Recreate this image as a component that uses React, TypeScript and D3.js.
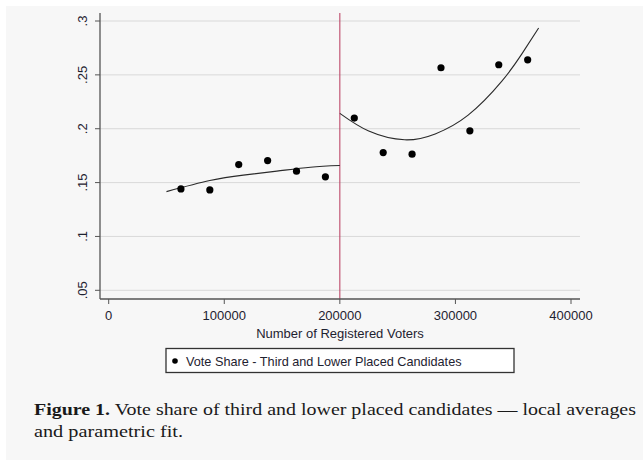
import React from "react";
import * as d3 from "d3";

const binCenters = [62500, 87500, 112500, 137500, 162500, 187500, 212500, 237500, 262500, 287500, 312500, 337500, 362500];
const voteShare = [0.1441, 0.1432, 0.1667, 0.1704, 0.1606, 0.1553, 0.2099, 0.1779, 0.1764, 0.2566, 0.198, 0.2594, 0.264];

const leftFitX = [50000, 87500, 116500, 145500, 174500, 200000];
const leftFitY = [0.1416, 0.1519, 0.1569, 0.1606, 0.1643, 0.1658];
const rightFitX = [200000, 225000, 256000, 282500, 311000, 340000, 357500, 372000];
const rightFitY = [0.2142, 0.1978, 0.1897, 0.1952, 0.2126, 0.2439, 0.2695, 0.2935];

const xTicks = [0, 100000, 200000, 300000, 400000];
const xTickLabels = ["0", "100000", "200000", "300000", "400000"];
const yTicks = [0.05, 0.1, 0.15, 0.2, 0.25, 0.3];
const yTickLabels = [".05", ".1", ".15", ".2", ".25", ".3"];
const cutoff = 200000;

const xTitle = "Number of Registered Voters";
const legendLabel = "Vote Share - Third and Lower Placed Candidates";
const captionBold = "Figure 1.";
const captionLine1 = " Vote share of third and lower placed candidates \u2014 local averages";
const captionLine2 = "and parametric fit.";

export default function App() {
  const W = 643, H = 460;
  const plotLeft = 100, plotRight = 580, plotTop = 13, plotBottom = 299;
  const x = d3.scaleLinear().domain([0, 400000]).range([108.7, 571]);
  const y = d3.scaleLinear().domain([0.05, 0.3]).range([290.3, 21]);
  const sans = "'Liberation Sans', Arial, Helvetica, sans-serif";
  const serif = "'Liberation Serif', 'DejaVu Serif', serif";
  const textColor = "#1e2230";

  const line = d3
    .line<[number, number]>()
    .x((d) => x(d[0]))
    .y((d) => y(d[1]))
    .curve(d3.curveNatural);

  const leftPts = leftFitX.map((v, i) => [v, leftFitY[i]] as [number, number]);
  const rightPts = rightFitX.map((v, i) => [v, rightFitY[i]] as [number, number]);

  return (
    <svg
      width={W}
      height={H}
      style={{ position: "absolute", left: 0, top: 0, display: "block" }}
    >
      <rect x={0} y={0} width={W} height={H} fill="#ffffff" />
      <rect x={6} y={6} width={W - 6} height={H - 6} fill="#f7f7f7" />

      {/* gridlines */}
      {yTicks.map((t) => (
        <line key={"g" + t} x1={plotLeft} x2={plotRight} y1={y(t)} y2={y(t)} stroke="#d9d9d9" strokeWidth={1} />
      ))}

      {/* cutoff line */}
      <line x1={x(cutoff)} x2={x(cutoff)} y1={plotTop} y2={plotBottom} stroke="#b8385c" strokeWidth={1} />

      {/* fit lines */}
      <path d={line(leftPts) || ""} fill="none" stroke="#2a2a2a" strokeWidth={1.1} />
      <path d={line(rightPts) || ""} fill="none" stroke="#2a2a2a" strokeWidth={1.1} />

      {/* points */}
      {binCenters.map((v, i) => (
        <circle key={"p" + i} cx={x(v)} cy={y(voteShare[i])} r={3.6} fill="#000" />
      ))}

      {/* axes */}
      <line x1={plotLeft} x2={plotLeft} y1={plotTop} y2={plotBottom} stroke="#555" strokeWidth={1.3} />
      <line x1={plotLeft} x2={plotRight} y1={plotBottom} y2={plotBottom} stroke="#555" strokeWidth={1.3} />

      {yTicks.map((t, i) => (
        <g key={"yt" + t}>
          <line x1={plotLeft - 5} x2={plotLeft} y1={y(t)} y2={y(t)} stroke="#555" strokeWidth={1} />
          <text
            transform={`translate(87,${y(t)}) rotate(-90)`}
            textAnchor="middle"
            fontFamily={sans}
            fontSize={13}
            fill={textColor}
          >
            {yTickLabels[i]}
          </text>
        </g>
      ))}

      {xTicks.map((t, i) => (
        <g key={"xt" + t}>
          <line x1={x(t)} x2={x(t)} y1={plotBottom} y2={plotBottom + 5} stroke="#555" strokeWidth={1} />
          <text x={x(t)} y={320} textAnchor="middle" fontFamily={sans} fontSize={13} fill={textColor}>
            {xTickLabels[i]}
          </text>
        </g>
      ))}

      <text x={340} y={338} textAnchor="middle" fontFamily={sans} fontSize={13} fill={textColor}>
        {xTitle}
      </text>

      {/* legend */}
      <rect x={166} y={348.5} width={348} height={24} fill="#ffffff" stroke="#333" strokeWidth={1.3} />
      <circle cx={175} cy={361} r={2.8} fill="#000" />
      <text x={186} y={365.5} fontFamily={sans} fontSize={12.7} fill={textColor}>
        {legendLabel}
      </text>

      {/* caption */}
      <text x={34} y={415} fontFamily={serif} fontSize={17} fill="#1a1a1a" textLength={602} lengthAdjust="spacingAndGlyphs">
        <tspan fontWeight="bold">{captionBold}</tspan>
        <tspan>{captionLine1}</tspan>
      </text>
      <text x={34} y={436.5} fontFamily={serif} fontSize={17} fill="#1a1a1a" textLength={149} lengthAdjust="spacingAndGlyphs">
        {captionLine2}
      </text>
    </svg>
  );
}
